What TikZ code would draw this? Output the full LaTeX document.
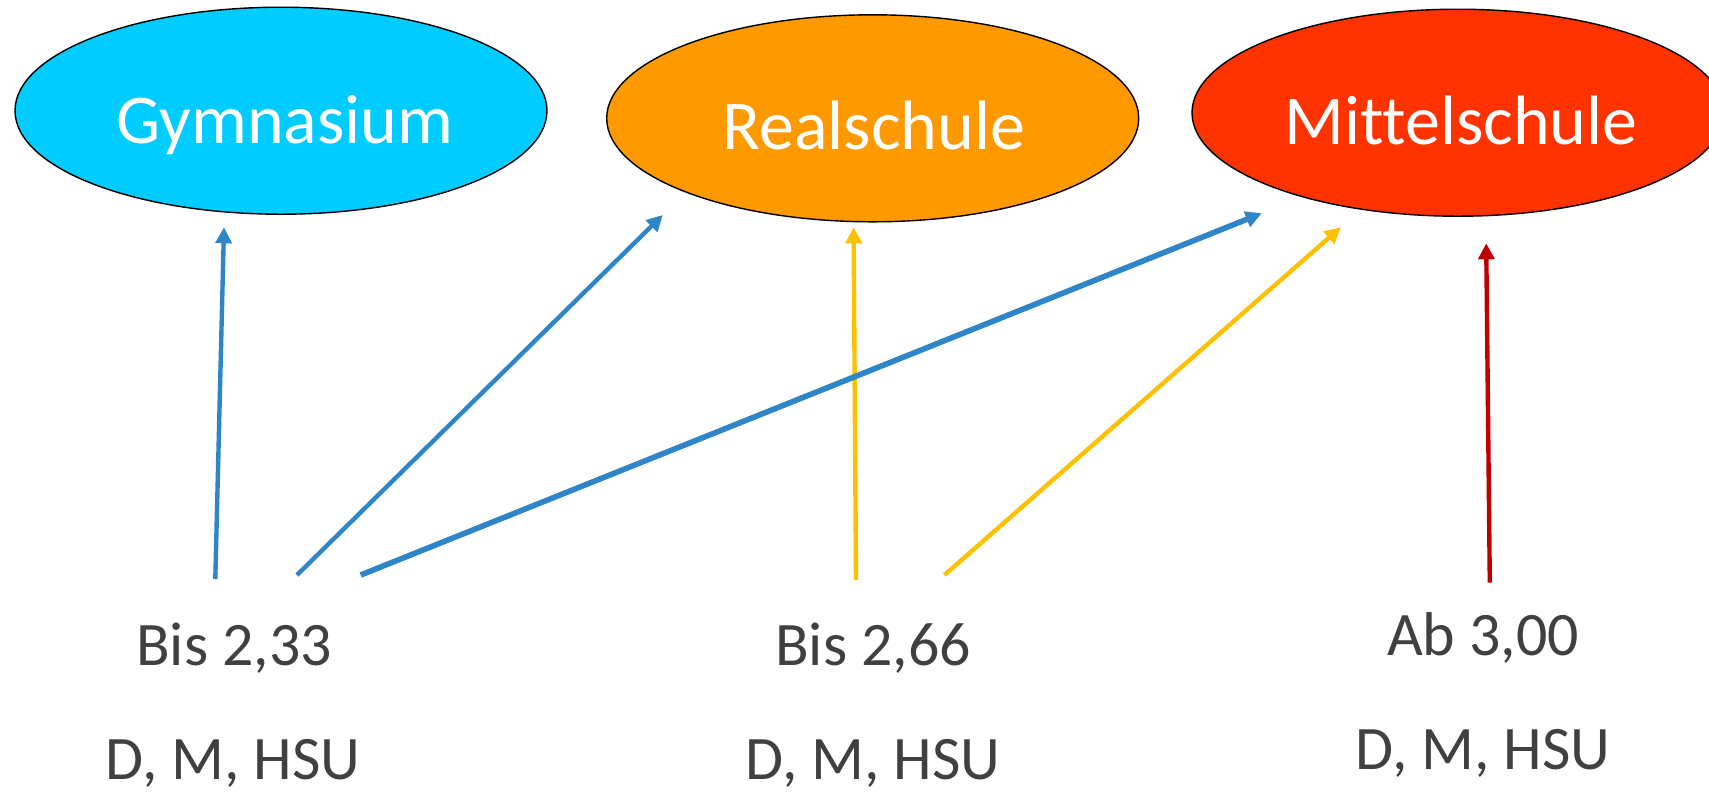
\documentclass[tikz,border=0pt]{standalone}
\usepackage{fontspec}
\setmainfont{Carlito}[Ligatures = NoCommon]
\usepackage{xcolor}
\usepackage{tikz}
\usetikzlibrary{shapes.geometric}
\usetikzlibrary{arrows.meta}

\definecolor{gymblue}{HTML}{00CCFF}
\definecolor{realorange}{HTML}{FF9900}
\definecolor{mittelred}{HTML}{FF3300}
\definecolor{routeblue}{HTML}{2E86C8}
\definecolor{routeyellow}{HTML}{FFC000}
\definecolor{routered}{HTML}{C00000}
\definecolor{gradegray}{HTML}{404040}

\begin{document}
\begin{tikzpicture}[
		school/.style = {ellipse, draw = black, line width = 0.4pt, minimum width = 5.32cm, minimum height = 2.07cm, inner sep = 0},
		schoolname/.style = {text = white, font = \fontsize{19.9}{24}\selectfont, anchor = base},
		grade/.style = {text = gradegray, font = \fontsize{17.6}{21}\selectfont, anchor = base},
		route/.style = {line width = 1.25pt, -{Triangle[length = 1.6mm, width = 1.6mm]}}
	]
		\useasboundingbox (0,0) rectangle (17.09,-7.93);
		\node[school, fill = gymblue] (gym) at (2.81,-1.107) {};
		\node[school, fill = realorange] (real) at (8.727,-1.183) {};
		\node[school, fill = mittelred] (mittel) at (14.58,-1.127) {};
		\node[schoolname] (gymtxt) at (2.85,-1.43) {Gymnasium};
		\node[schoolname] (realtxt) at (8.74,-1.49) {Realschule};
		\node[schoolname] (mitteltxt) at (14.61,-1.44) {Mittelschule};

		\node[grade] (bisA) at (2.34,-6.657) {Bis 2,33};
		\node[grade] (bisB) at (8.73,-6.657) {Bis 2,66};
		\node[grade] (abC) at (14.83,-6.55) {Ab 3,00};
		\node[grade] (dmhA) at (2.33,-7.79) {D, M, HSU};
		\node[grade] (dmhB) at (8.73,-7.79) {D, M, HSU};
		\node[grade] (dmhC) at (14.83,-7.69) {D, M, HSU};

		\coordinate (s1) at (2.153,-5.79);
		\coordinate (t1) at (2.24,-2.273);
		\coordinate (s2) at (2.97,-5.75);
		\coordinate (t2) at (6.628,-2.15);
		\coordinate (s3) at (3.607,-5.75);
		\coordinate (t3) at (12.617,-2.133);
		\coordinate (s4) at (8.56,-5.80);
		\coordinate (t4) at (8.536,-2.273);
		\coordinate (s5) at (9.444,-5.75);
		\coordinate (t5) at (13.408,-2.273);
		\coordinate (s6) at (14.898,-5.827);
		\coordinate (t6) at (14.862,-2.433);

		\foreach \i/\c in {1/routeblue, 2/routeblue, 4/routeyellow, 5/routeyellow, 6/routered}{
			\draw[route, \c] (s\i) -- (t\i);
		}
		\draw[route, routeblue, line width = 1.6pt] (s3) -- (t3);
\end{tikzpicture}
\end{document}
